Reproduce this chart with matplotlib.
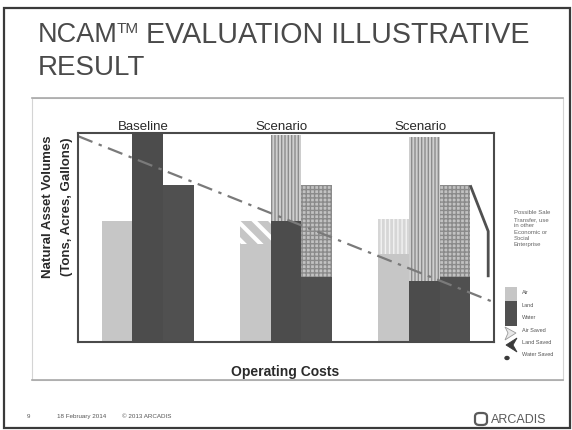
import numpy as np
import matplotlib.pyplot as plt
import matplotlib.patches as mpatches
import matplotlib.lines as mlines

plt.rcParams['font.family'] = ['Liberation Sans', 'DejaVu Sans']
plt.rcParams['hatch.linewidth'] = 1.0

# Data (arbitrary volume units, frame top = 100)
groups = ["Baseline", "Scenario", "Scenario"]
air = [58, 47, 42]
land = [100, 58, 29]
water = [75, 31, 31]
air_saved = [0, 11, 17]
land_saved = [0, 41, 69]
water_saved = [0, 44, 44]
trend_x = [-0.505, 2.505]
trend_y = [98.5, 19]
legend_labels = ["Air", "Land", "Water", "Air Saved", "Land Saved", "Water Saved"]
note = "Possible Sale\nTransfer, use\nin other\nEconomic or\nSocial\nEnterprise"

W, H = 572, 431


def fx(px):
    return px / W


def fy(py):
    return 1 - py / H


fig = plt.figure(figsize=(5.72, 4.31), dpi=100)

# slide frame and content box
fig.add_artist(mpatches.Rectangle((fx(4), fy(429)), fx(570) - fx(4), fy(9) - fy(429),
                                  transform=fig.transFigure, fill=False,
                                  edgecolor='#3a3a3a', lw=1.6))
fig.add_artist(mpatches.Rectangle((fx(32), fy(381)), fx(563) - fx(32), fy(99) - fy(381),
                                  transform=fig.transFigure, fill=False,
                                  edgecolor='#d4d4d4', lw=0.8))
for yy in (99, 381):
    fig.add_artist(mlines.Line2D([fx(32), fx(563)], [fy(yy), fy(yy)],
                                 transform=fig.transFigure, color='#a8a8a8', lw=1.2))

# title
title_col = '#4a4a4a'
fig.text(fx(38), fy(35), "NCAM", fontsize=19.5, color=title_col, va='center', ha='left')
fig.text(fx(117), fy(22), "TM", fontsize=11, color=title_col, va='top', ha='left')
fig.text(fx(146), fy(35), "EVALUATION ILLUSTRATIVE", fontsize=20.6, color=title_col,
         va='center', ha='left')
fig.text(fx(38), fy(68), "RESULT", fontsize=20, color=title_col, va='center', ha='left')

# chart
ax = fig.add_axes([fx(78), fy(343), fx(494) - fx(78), fy(134) - fy(343)])
x = np.arange(len(groups))
w = 0.222

air_hatch = ['', '\\\\', '||||']
air_hatch_col = ['white', 'white', '#f2f2f2']
air_saved_face = ['#c6c6c6', '#c6c6c6', '#d6d6d6']

for i in range(len(groups)):
    ax.bar(x[i] - w, air[i], w, color='#c6c6c6', lw=0)
    ax.bar(x[i], land[i], w, color='#4c4c4c', lw=0)
    ax.bar(x[i] + w, water[i], w, color='#505050', lw=0)
    if air_saved[i]:
        with plt.rc_context({'hatch.linewidth': 3.0 if i == 1 else 1.0}):
            ax.bar(x[i] - w, air_saved[i], w, bottom=air[i], color=air_saved_face[i],
                   edgecolor=air_hatch_col[i], hatch=air_hatch[i], lw=0)
    if land_saved[i]:
        ax.bar(x[i], land_saved[i], w, bottom=land[i], color='#cfcfcf',
               edgecolor='#8c8c8c', hatch='|||||', lw=0)
    if water_saved[i]:
        ax.bar(x[i] + w, water_saved[i], w, bottom=water[i], color='#c2c2c2',
               edgecolor='#8a8a8a', hatch='++++', lw=0)
    ax.text(x[i] - 0.03, 103.3, groups[i], ha='center', va='center', fontsize=9.5,
            color='#2a2a2a', clip_on=False)

# bracket pointing at the saved water in the last scenario
xr = x[-1] + 1.5 * w
top = water[-1] + water_saved[-1]
ax.plot([xr, xr + 0.13, xr + 0.13], [top, (top + water[-1]) / 2, water[-1]],
        color='#505050', lw=2, solid_capstyle='butt')

ax.plot(trend_x, trend_y, color='#7a7a7a', lw=1.6, linestyle=(0, (7, 3, 1.5, 3)),
        clip_on=False)

ax.set_xlim(-0.505, 2.505)
ax.set_ylim(0, 100)
ax.set_xticks([])
ax.set_yticks([])
for s in ax.spines.values():
    s.set_color('#4a4a4a')
    s.set_linewidth(1.5)

fig.text(fx(48), fy(207), "Natural Asset Volumes", rotation=90, fontsize=9.5,
         fontweight='bold', color='#2a2a2a', ha='center', va='center')
fig.text(fx(67), fy(207), "(Tons, Acres, Gallons)", rotation=90, fontsize=9.5,
         fontweight='bold', color='#2a2a2a', ha='center', va='center')
fig.text(fx(285), fy(372), "Operating Costs", fontsize=10, fontweight='bold',
         color='#2a2a2a', ha='center', va='center')

# right-hand legend
fig.text(fx(514), fy(229), note, fontsize=4.3, color='#666666', ha='left', va='center',
         linespacing=1.35)
fig.add_artist(mpatches.Rectangle((fx(505), fy(302)), fx(12), fy(288) - fy(302),
                                  transform=fig.transFigure, color='#c6c6c6', lw=0))
fig.add_artist(mpatches.Rectangle((fx(505), fy(327)), fx(12), fy(302) - fy(327),
                                  transform=fig.transFigure, color='#505050', lw=0))
fig.add_artist(mpatches.Polygon([(fx(505), fy(328)), (fx(516), fy(334)), (fx(505), fy(341)),
                                 (fx(508), fy(334))], closed=True, transform=fig.transFigure,
                                facecolor='#e8e8e8', edgecolor='#9a9a9a', lw=0.6))
fig.add_artist(mpatches.Polygon([(fx(517), fy(339)), (fx(506), fy(346)), (fx(517), fy(353)),
                                 (fx(513), fy(346))], closed=True, transform=fig.transFigure,
                                facecolor='#3a3a3a', edgecolor='#3a3a3a', lw=0.6))
fig.add_artist(mpatches.Circle((fx(507), fy(359)), 0.0035, transform=fig.transFigure,
                               color='#3a3a3a'))
for k, lab in enumerate(legend_labels):
    fig.text(fx(522), fy(293 + 12.4 * k), lab, fontsize=4, color='#555555',
             ha='left', va='center')

# footer
fig.text(fx(27), fy(417), "9", fontsize=4.5, color='#555555', va='center')
fig.text(fx(57), fy(417), "18 February 2014", fontsize=4.5, color='#555555', va='center')
fig.text(fx(122), fy(417), "\u00a9 2013 ARCADIS", fontsize=4.5, color='#555555', va='center')
fig.add_artist(mpatches.FancyBboxPatch((fx(475), fy(426)), fx(12), fy(414) - fy(426),
                                       boxstyle='round,pad=0,rounding_size=0.008',
                                       transform=fig.transFigure, facecolor='none',
                                       edgecolor='#5a5a5a', lw=1.6))
fig.text(fx(491), fy(420), "ARCADIS", fontsize=9, color='#5a5a5a', va='center',
         ha='left')

fig.savefig("out.png", dpi=100)
